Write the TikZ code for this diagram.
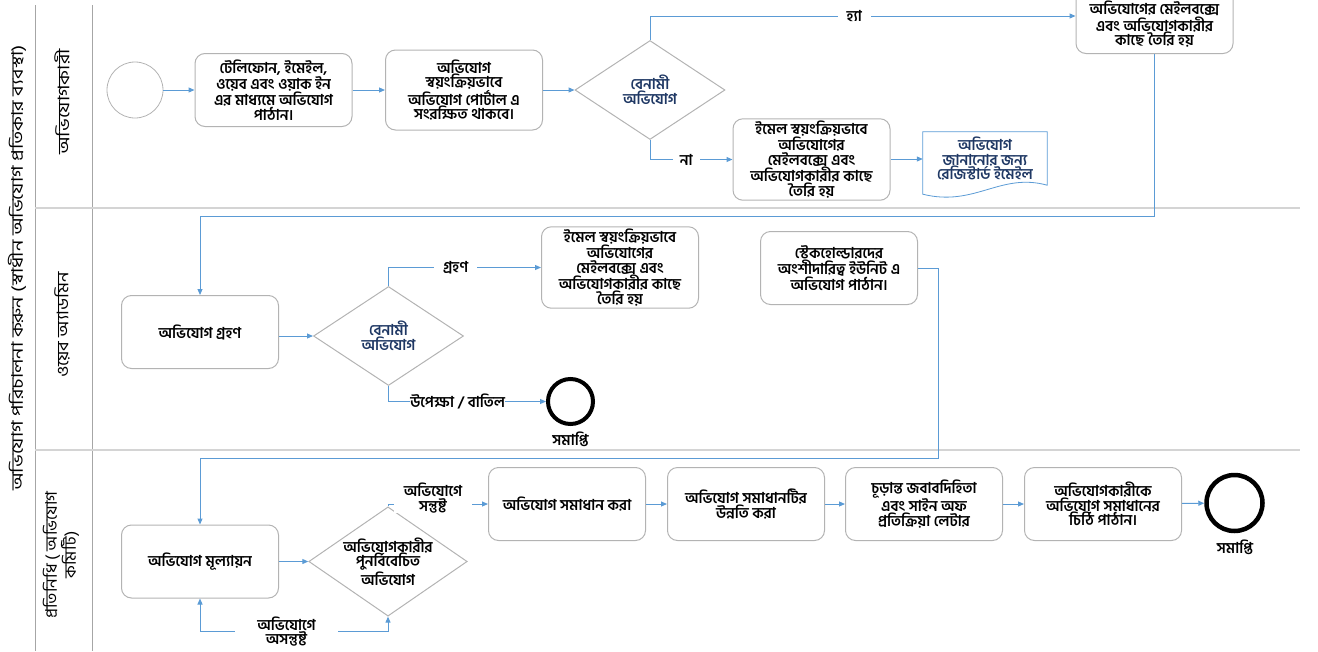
\documentclass[tikz,border=0pt]{standalone}
\usepackage{fontspec}
\setmainfont{Hind Siliguri}[Script=Bengali]
\IfFontExistsTF{Hind Siliguri SemiBold}
  {\newfontfamily\bnbold{Hind Siliguri SemiBold}[Script=Bengali]}
  {\newfontfamily\bnbold{Hind Siliguri}[Script=Bengali,FakeBold=1.2]}
\usetikzlibrary{arrows.meta,shapes.geometric}
\definecolor{flowblue}{HTML}{5B9BD5}
\definecolor{navy}{HTML}{1F3864}
\definecolor{edgegray}{HTML}{B3B3B3}
\definecolor{lanegray}{HTML}{A6A6A6}
\definecolor{sepgray}{HTML}{D4D4D4}
\newcommand{\fs}{\bnbold\fontsize{15}{14.5}\selectfont}
\newcommand{\fsl}{\fontsize{16}{14.5}\selectfont}
\tikzset{
  >={Triangle[length=6pt,width=5pt]},
  box/.style={draw=edgegray,line width=1pt,rounded corners=10pt,align=center,
    minimum width=157pt,minimum height=73pt,inner sep=2pt,font=\fs},
  dmd/.style={diamond,draw=edgegray,line width=1pt,aspect=1.5,align=center,
    minimum width=150pt,minimum height=99pt,inner sep=0pt,font=\fs},
  flow/.style={draw=flowblue,line width=1pt,->},
  lbl/.style={fill=white,inner xsep=9pt,inner ysep=0pt,align=center,font=\fs},
  lanelbl/.style={rotate=90,align=center,font=\fsl},
  endc/.style={circle,draw=black,line width=4pt,minimum size=45pt,inner sep=0pt},
  startc/.style={circle,draw=edgegray,line width=0.8pt,minimum size=56pt,inner sep=0pt},
  lane/.style={draw=lanegray,line width=0.8pt},
  sep/.style={draw=sepgray,line width=2pt},
  docline/.style={draw=flowblue,line width=0.8pt}
}

\begin{document}
\begin{tikzpicture}[x=1pt,y=-1pt]
  \useasboundingbox (0,0) rectangle (1318,651);
  % pool and lanes
  \draw[lane] (  35,   5) -- (  35, 651);
  \draw[lane] (  92,   5) -- (  92, 651);
  \draw[sep]  (  35, 208) -- (1300, 208);
  \draw[sep]  (  35, 450) -- (1300, 450);
  \node[lanelbl,xscale=1.25] (pool)  at ( 17,268) {অভিযোগ পরিচালনা করুন (স্বাধীন অভিযোগ প্রতিকার ব্যবস্থা)};
  \node[lanelbl,xscale=1.25] (lane1) at ( 62,102) {অভিযোগকারী};
  \node[lanelbl,xscale=1.15] (lane2) at ( 62,325) {ওয়েব অ্যাডমিন};
  \node[lanelbl,xscale=1.07] (lane3) at ( 61,555) {প্রতিনিধি ( অভিযোগ\\কমিটি)};
  % lane 1
  \node[startc] (start)  at ( 135.0,  90.0) {};
  \node[box] (phone)     at ( 273.5,  90.0) {টেলিফোন, ইমেইল,\\ওয়েব এবং ওয়াক ইন\\এর মাধ্যমে অভিযোগ\\পাঠান।};
  \node[box,minimum height=80pt] (portal) at ( 464.0,  90.0) {অভিযোগ\\স্বয়ংক্রিয়ভাবে\\অভিযোগ পোর্টাল এ\\সংরক্ষিত থাকবে।};
  \node[dmd,text=navy] (anon1) at ( 650.0,  90.0) {বেনামী\\অভিযোগ};
  \node[box,minimum height=75pt] (mail1) at (1154.5,  16.0) {ইমেল স্বয়ংক্রিয়ভাবে\\অভিযোগের মেইলবক্সে\\এবং অভিযোগকারীর\\কাছে তৈরি হয়};
  \node[box] (mail2)     at ( 811.5, 159.5) {ইমেল স্বয়ংক্রিয়ভাবে\\অভিযোগের\\মেইলবক্সে এবং\\অভিযোগকারীর কাছে\\তৈরি হয়};
  \node[align=center,font=\fs,text=navy,minimum width=124pt,minimum height=62pt,inner sep=0pt,yshift=4pt]
    (regmail) at ( 985.0, 163.0) {অভিযোগ\\জানানোর জন্য\\রেজিস্টার্ড ইমেইল};
  \draw[docline] ([yshift=-4pt]regmail.north west) -- ([yshift=-4pt]regmail.north east)
    -- ([yshift=5pt]regmail.south east) .. controls +(-47,-13) and +(52,13) .. ([yshift=-4pt]regmail.south west) -- cycle;
  % lane 2
  \node[box] (recv)      at ( 200.0, 332.0) {অভিযোগ গ্রহণ};
  \node[dmd,text=navy] (anon2) at ( 388.5, 336.0) {বেনামী\\অভিযোগ};
  \node[box] (mail3)     at ( 620.0, 267.5) {ইমেল স্বয়ংক্রিয়ভাবে\\অভিযোগের\\মেইলবক্সে এবং\\অভিযোগকারীর কাছে\\তৈরি হয়};
  \node[endc] (end1)     at ( 570.5, 401.5) {};
  \node[font=\fs] (end1txt) at ( 570.5, 439.0) {সমাপ্তি};
  \node[box] (stake)     at ( 839.0, 268.0) {স্টেকহোল্ডারদের\\অংশীদারিত্ব ইউনিট এ\\অভিযোগ পাঠান।};
  % lane 3
  \node[box] (eval)      at ( 200.0, 561.5) {অভিযোগ মূল্যায়ন};
  \node[dmd,aspect=1.45] (recon) at ( 388.0, 561.5) {অভিযোগকারীর\\পুনর্বিবেচিত\\অভিযোগ};
  \node[box] (solve)     at ( 567.0, 504.0) {অভিযোগ সমাধান করা};
  \node[box] (improve)   at ( 746.0, 504.0) {অভিযোগ সমাধানটির\\উন্নতি করা};
  \node[box] (final)     at ( 924.0, 504.0) {চূড়ান্ত জবাবদিহিতা\\এবং সাইন অফ\\প্রতিক্রিয়া লেটার};
  \node[box] (letter)    at (1103.0, 504.0) {অভিযোগকারীকে\\অভিযোগ সমাধানের\\চিঠি পাঠান।};
  \node[endc,minimum size=56pt,line width=4.5pt] (end2) at (1234.5, 503.0) {};
  \node[font=\fs] (end2txt) at (1235.0, 547.0) {সমাপ্তি};
  % flows
  \draw[flow] (start) -- (phone);
  \draw[flow] (phone) -- (portal);
  \draw[flow] (portal) -- (anon1);
  \draw[flow] (anon1.north) |- node[lbl,pos=0.74]{হ্যা} (mail1.west);
  \draw[flow] (anon1.south) |- node[lbl,pos=0.72,inner xsep=7pt]{না} (mail2.west);
  \draw[flow] (mail2.east |- regmail) -- (regmail.west);
  \draw[flow] (mail1.south) -- ++(0,162) -| (recv.north);
  \draw[flow] (recv.east |- anon2.west) -- (anon2.west);
  \draw[flow] (anon2.north) |- node[lbl,pos=0.72]{গ্রহণ} (mail3.west);
  \draw[flow] (anon2.south) |- node[lbl,pos=0.72,inner xsep=0pt]{উপেক্ষা / বাতিল} (end1.west);
  \draw[flow] (stake.east) -- ++(20,0) -- ++(0,190) -| (eval.north);
  \draw[flow] (eval) -- (recon);
  \draw[flow] (recon.north) |- node[lbl,pos=0.725,yshift=6pt,inner xsep=10pt]{অভিযোগে\\সন্তুষ্ট} (solve.west);
  \draw[flow] (solve) -- (improve);
  \draw[flow] (improve) -- (final);
  \draw[flow] (final) -- (letter);
  \draw[flow] (letter) -- (end2);
  \draw[flow,<->] (eval.south) -- ++(0,33) -| node[lbl,pos=0.23,inner xsep=22pt]{অভিযোগে\\অসন্তুষ্ট} (recon.south);
\end{tikzpicture}
\end{document}
